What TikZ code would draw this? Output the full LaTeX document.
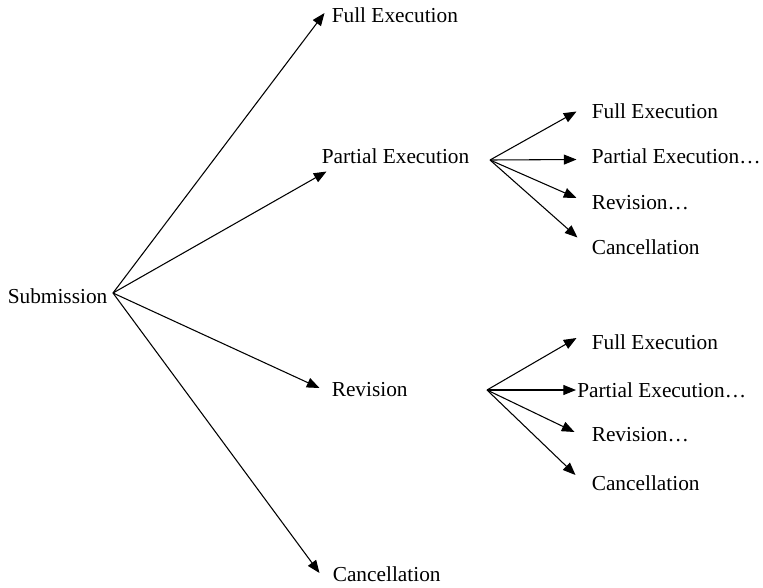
\documentclass[tikz,border=0pt]{standalone}
\usepackage{fontspec}
\setmainfont{Liberation Serif}
\usetikzlibrary{arrows.meta, calc}

\begin{document}
\begin{tikzpicture}[
    x=0.75pt, y=-0.75pt,
    every node/.style={font=\fontsize{16}{19}\selectfont},
    lbl/.style={anchor=west, inner sep=0pt, text height=10.9pt, text depth=0pt},
    arrow/.style={-{Triangle[length=9.5pt, width=7.5pt]}, line width=0.8pt},
  ]
  \useasboundingbox (0,0) rectangle (763,587);

  % ---- Root ----
  \node[lbl] (sub) at (7.5,296.5) {Submission};
  \coordinate (subfan) at (113,293);

  % ---- First outcomes ----
  \node[lbl] (full0) at (331.5,15) {Full Execution};
  \node[lbl] (part0) at (321.5,156.5) {Partial Execution};
  \node[lbl] (rev0) at (331.5,389) {Revision};
  \node[lbl] (can0) at (332.5,574) {Cancellation};

  \coordinate (pfan) at (490,160);
  \coordinate (rfan) at (487,390);

  % ---- After partial execution ----
  \node[lbl] (full1) at (591.5,111.5) {Full Execution};
  \node[lbl] (part1) at (591.5,156.5) {Partial Execution…};
  \node[lbl] (rev1) at (591.5,202) {Revision…};
  \node[lbl] (can1) at (591.5,247.5) {Cancellation};

  % ---- After revision ----
  \node[lbl] (full2) at (591.5,342) {Full Execution};
  \node[lbl] (part2) at (577,390) {Partial Execution…};
  \node[lbl] (rev2) at (591.5,434) {Revision…};
  \node[lbl] (can2) at (591.5,483) {Cancellation};

  % ---- Arrows ----
  \draw[arrow] (subfan) -- ($(full0.west)+(-7,-2)$);
  \draw[arrow] (subfan) -- ($(part0.west)+(5,15)$);
  \draw[arrow] (subfan) -- ($(rev0.west)+(-12,-1)$);
  \draw[arrow] (subfan) -- ($(can0.west)+(-13,-1)$);

  \draw[arrow] (pfan) -- ($(full1.west)+(-15,0)$);
  \draw[arrow] (pfan) -- ($(part1.west)+(-15,3)$);
  \draw[arrow] (pfan) -- ($(rev1.west)+(-15,-4)$);
  \draw[arrow] (pfan) -- ($(can1.west)+(-14,-10)$);

  \draw[arrow] (rfan) -- ($(full2.west)+(-15,-4)$);
  \draw[arrow] (rfan) -- ($(part2.west)+(-1,0)$);
  \draw[arrow] (rfan) -- ($(rev2.west)+(-17,-2)$);
  \draw[arrow] (rfan) -- ($(can2.west)+(-16,-8)$);

\end{tikzpicture}
\end{document}
